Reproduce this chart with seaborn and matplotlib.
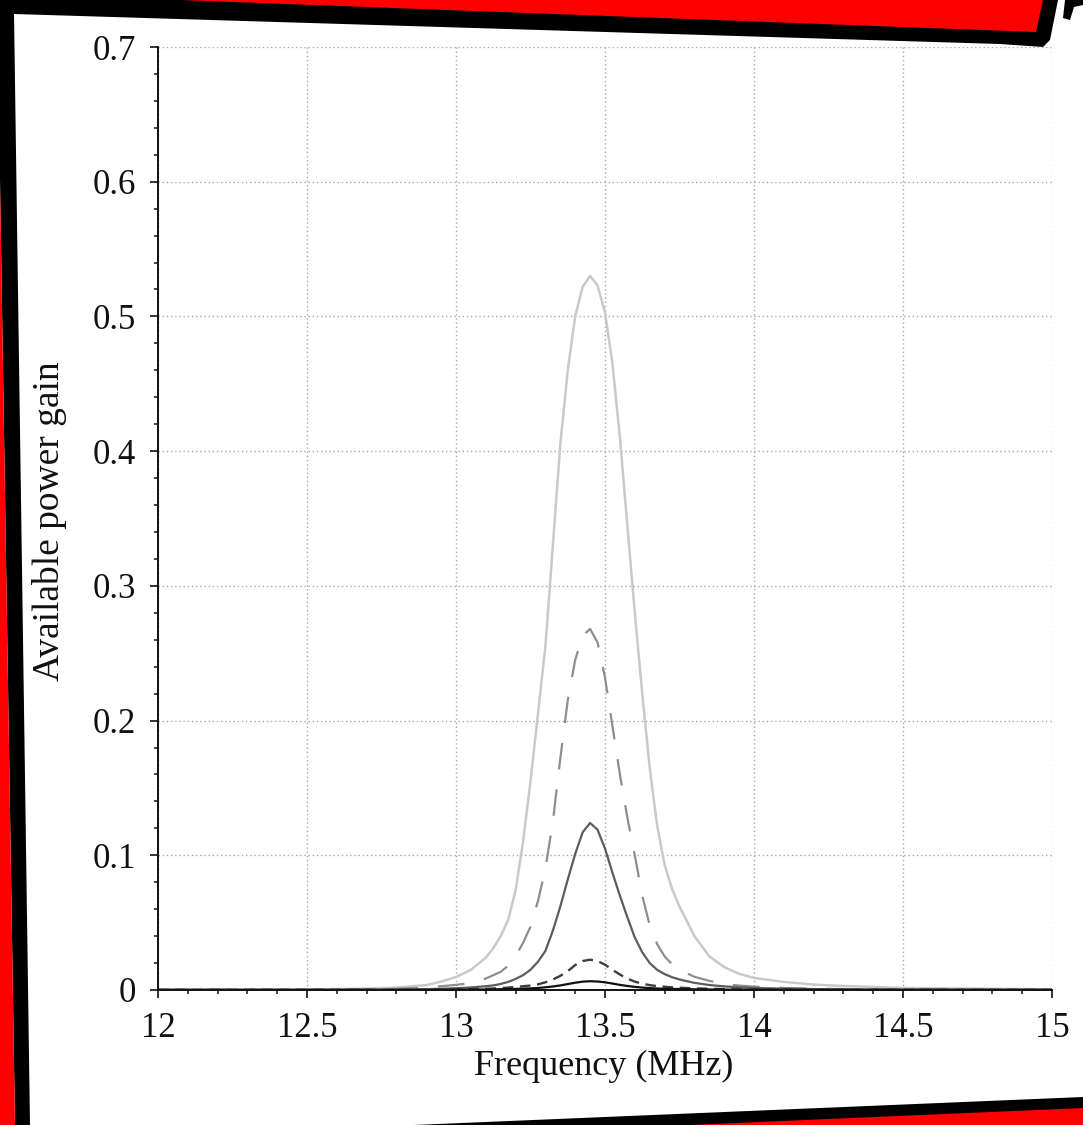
import matplotlib
matplotlib.use("Agg")
import matplotlib.pyplot as plt
import seaborn as sns
import pandas as pd
from matplotlib.patches import Polygon
from matplotlib.ticker import FixedLocator, MultipleLocator

# ---------------- data ----------------
freq = [12.0, 12.5, 12.7, 12.8, 12.9, 12.95, 13.0, 13.05, 13.1, 13.125, 13.15, 13.175,
        13.2, 13.225, 13.25, 13.275, 13.3, 13.325, 13.35, 13.375, 13.4, 13.425, 13.45,
        13.475, 13.5, 13.525, 13.55, 13.575, 13.6, 13.625, 13.65, 13.675, 13.7, 13.725,
        13.75, 13.8, 13.85, 13.9, 13.95, 14.0, 14.1, 14.2, 14.3, 14.5, 15.0]

gain_light = [0.0001, 0.0004, 0.0010, 0.0018, 0.0036, 0.0062, 0.0096, 0.015, 0.024, 0.031, 0.040, 0.052,
              0.074, 0.110, 0.155, 0.205, 0.255, 0.330, 0.405, 0.460, 0.500, 0.522, 0.530,
              0.523, 0.503, 0.465, 0.410, 0.345, 0.280, 0.220, 0.165, 0.122, 0.093, 0.075,
              0.062, 0.040, 0.025, 0.017, 0.012, 0.009, 0.006, 0.004, 0.003, 0.0015, 0.0005]

gain_dash_gray = [0.0001, 0.0002, 0.0005, 0.0009, 0.0018, 0.0028, 0.0038, 0.0052, 0.0085, 0.011, 0.0135, 0.018,
                  0.025, 0.035, 0.047, 0.066, 0.090, 0.125, 0.172, 0.215, 0.245, 0.263, 0.268,
                  0.258, 0.232, 0.196, 0.160, 0.128, 0.100, 0.070, 0.048, 0.034, 0.025, 0.019,
                  0.015, 0.0098, 0.0068, 0.0045, 0.0033, 0.0025, 0.0015, 0.001, 0.0007, 0.0004, 0.0001]

gain_dark = [0.00005, 0.0001, 0.0002, 0.0003, 0.0006, 0.0009, 0.0013, 0.0019, 0.0028, 0.0034, 0.0045, 0.006,
             0.0082, 0.011, 0.015, 0.021, 0.029, 0.044, 0.062, 0.082, 0.101, 0.117, 0.124,
             0.119, 0.105, 0.087, 0.070, 0.054, 0.039, 0.028, 0.020, 0.015, 0.0118, 0.0095,
             0.0078, 0.0053, 0.0037, 0.0027, 0.002, 0.0015, 0.001, 0.0007, 0.0005, 0.0003, 0.0001]

gain_dash_dark = [0.0001, 0.0001, 0.0001, 0.0001, 0.0002, 0.0003, 0.0004, 0.0006, 0.0009, 0.0011, 0.0014, 0.0018,
                  0.0023, 0.0028, 0.0033, 0.0042, 0.0057, 0.0078, 0.0105, 0.014, 0.0185, 0.0215, 0.0225,
                  0.0215, 0.0188, 0.015, 0.0115, 0.0085, 0.0062, 0.0047, 0.0036, 0.0029, 0.0024, 0.002,
                  0.0017, 0.0012, 0.0009, 0.0007, 0.0005, 0.0004, 0.0003, 0.0002, 0.0002, 0.0001, 0.0001]

gain_black = [0.0001, 0.0001, 0.0001, 0.0001, 0.0001, 0.0002, 0.0002, 0.0003, 0.0004, 0.0005, 0.0006, 0.0007,
              0.0008, 0.001, 0.0012, 0.0015, 0.002, 0.0026, 0.0034, 0.0044, 0.0054, 0.0062, 0.0065,
              0.0063, 0.0057, 0.0048, 0.0038, 0.003, 0.0023, 0.0018, 0.0014, 0.0011, 0.0009, 0.0008,
              0.0007, 0.0005, 0.0004, 0.0003, 0.0002, 0.0002, 0.0001, 0.0001, 0.0001, 0.0001, 0.0001]

x_ticks = [12, 12.5, 13, 13.5, 14, 14.5, 15]
x_tick_labels = ["12", "12.5", "13", "13.5", "14", "14.5", "15"]
y_ticks = [0, 0.1, 0.2, 0.3, 0.4, 0.5, 0.6, 0.7]
y_tick_labels = ["0", "0.1", "0.2", "0.3", "0.4", "0.5", "0.6", "0.7"]

x_label = "Frequency (MHz)"
y_label = "Available power gain"

# ---------------- styling ----------------
sns.set_style("ticks")
plt.rcParams["font.family"] = ["Liberation Serif", "DejaVu Serif"]

W, H = 1083, 1125
fig = plt.figure(figsize=(W / 100, H / 100), dpi=100)
fig.patch.set_facecolor("white")

L, R, T, B = 158, 1052, 47, 990
ax = fig.add_axes([L / W, 1 - B / H, (R - L) / W, (B - T) / H])

series = [
    (gain_light, "#c9c9c9", "-", 1.8),
    (gain_dash_gray, "#8e8e8e", (0, (12, 9)), 1.6),
    (gain_dark, "#5c5c5c", "-", 1.6),
    (gain_dash_dark, "#3e3e3e", (0, (4.5, 2.8)), 1.7),
    (gain_black, "#111111", "-", 1.6),
]
for vals, col, ls, lw in series:
    df = pd.DataFrame({"freq": freq, "gain": vals})
    sns.lineplot(data=df, x="freq", y="gain", ax=ax, color=col,
                 linestyle=ls, linewidth=lw, clip_on=True)

ax.set_xlim(12, 15)
ax.set_ylim(0, 0.7)
ax.xaxis.set_major_locator(FixedLocator(x_ticks))
ax.set_xticklabels(x_tick_labels)
ax.yaxis.set_major_locator(FixedLocator(y_ticks))
ax.set_yticklabels(y_tick_labels)
ax.xaxis.set_minor_locator(MultipleLocator(0.1))
ax.yaxis.set_minor_locator(MultipleLocator(0.02))

ax.grid(True, which="major", color="#a8a8a8", linestyle=(0, (1, 2)), linewidth=1.0)
ax.set_axisbelow(True)

for s in ["top", "right"]:
    ax.spines[s].set_visible(False)
for s in ["left", "bottom"]:
    ax.spines[s].set_linewidth(1.4)
    ax.spines[s].set_color("#111111")

ax.tick_params(which="major", direction="out", length=6, width=1.2, colors="#111111",
               labelsize=25, pad=10)
ax.tick_params(which="minor", direction="out", length=3, width=1.1, colors="#111111")

ax.set_xlabel(x_label, fontsize=26, color="#111111")
ax.set_ylabel(y_label, fontsize=27, color="#111111")
ax.xaxis.set_label_coords(0.498, -0.064)
ax.yaxis.set_label_coords(-0.102, 0.497)

# ---------------- decorative frame ----------------
def px(points):
    return [(x / W, 1 - y / H) for x, y in points]

frame = [
    ([(0, 0), (1058, 0), (1050, 40), (1043, 47), (1000, 44), (14, 14), (0, 14)], "black"),
    ([(180, 0), (1043, 0), (1036, 32)], "#ff0000"),
    ([(1065, 0), (1083, 0), (1083, 5), (1074, 7), (1070, 20), (1063, 18)], "black"),
    ([(0, 13), (14, 13), (30, 1125), (15, 1125), (0, 180)], "black"),
    ([(0, 180), (15, 1125), (0, 1125)], "#ff0000"),
    ([(414, 1125), (1083, 1097), (1083, 1125)], "black"),
    ([(690, 1125), (1083, 1108), (1083, 1125)], "#ff0000"),
]
for pts, col in frame:
    fig.add_artist(Polygon(px(pts), closed=True, transform=fig.transFigure,
                           facecolor=col, edgecolor="none", zorder=10))

fig.savefig("out.png", dpi=100)
